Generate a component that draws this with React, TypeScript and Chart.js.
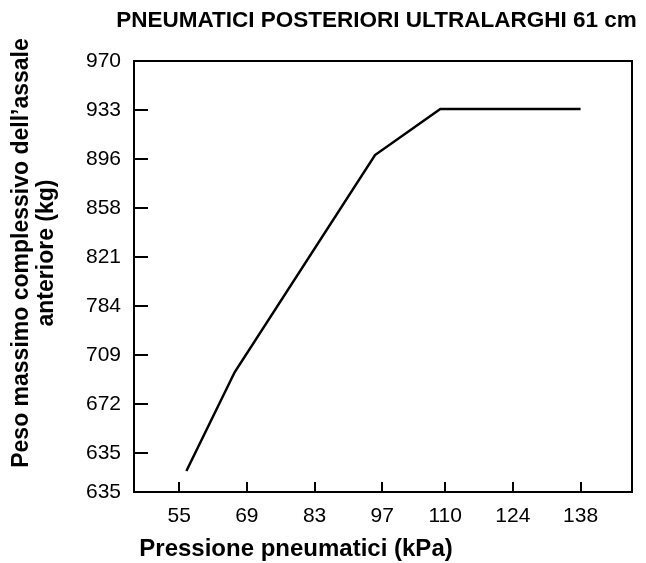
import React, { useEffect, useRef } from "react";
import { Chart, registerables } from "chart.js";

Chart.register(...registerables);

const chartTitle = "PNEUMATICI POSTERIORI ULTRALARGHI 61 cm";
const xAxisTitle = "Pressione pneumatici (kPa)";
const yAxisTitleLines = ["Peso massimo complessivo dell’assale", "anteriore (kg)"];

// x tick values (kPa)
const xTickValues = [55, 69, 83, 97, 110, 124, 138];
// y axis: tick levels (index units) and their printed labels
const yTickLevels = [0, 0.8, 1.8, 2.8, 3.8, 4.8, 5.8, 6.8, 7.8, 8.8];
const yTickLabels = ["635", "635", "672", "709", "784", "821", "858", "896", "933", "970"];

// series
const pressureKPa = [56.5, 66.5, 95.5, 109, 138];
const loadLevel = [0.43, 2.45, 6.88, 7.82, 7.82];

const FONT = "'Liberation Sans', Arial, Helvetica, sans-serif";

const framePlugin = {
  id: "framePlugin",
  afterDraw(chart: any) {
    const { ctx, chartArea } = chart;
    const { left, top, right, bottom } = chartArea;
    const xs = chart.scales.x;
    const ys = chart.scales.y;
    ctx.save();
    ctx.strokeStyle = "#000";
    ctx.lineWidth = 2;
    ctx.strokeRect(left, top, right - left, bottom - top);
    ctx.beginPath();
    yTickLevels.forEach((v) => {
      if (v > ys.min && v < ys.max) {
        const py = Math.round(ys.getPixelForValue(v));
        ctx.moveTo(left, py);
        ctx.lineTo(left + 14, py);
      }
    });
    xTickValues.forEach((v) => {
      const px = Math.round(xs.getPixelForValue(v));
      ctx.moveTo(px, bottom);
      ctx.lineTo(px, bottom - 10);
    });
    ctx.stroke();

    ctx.fillStyle = "#000";
    ctx.textAlign = "center";
    ctx.textBaseline = "middle";
    ctx.font = `bold 22.5px ${FONT}`;
    ctx.fillText(chartTitle, 376.5, 21);
    ctx.font = `bold 24px ${FONT}`;
    ctx.fillText(xAxisTitle, 296, 549);
    ctx.font = `bold 23px ${FONT}`;
    ctx.translate(34.5, 253);
    ctx.rotate(-Math.PI / 2);
    ctx.fillText(yAxisTitleLines[0], 0, -12.5);
    ctx.fillText(yAxisTitleLines[1], 0, 12.5);
    ctx.restore();
  },
};

export default function App() {
  const ref = useRef<HTMLCanvasElement | null>(null);
  useEffect(() => {
    if (!ref.current) return;
    const chart = new Chart(ref.current, {
      type: "line",
      data: {
        datasets: [
          {
            data: pressureKPa.map((x, i) => ({ x, y: loadLevel[i] })),
            borderColor: "#000",
            borderWidth: 2.5,
            pointRadius: 0,
            tension: 0,
            fill: false,
          },
        ],
      },
      options: {
        responsive: false,
        animation: false,
        layout: { padding: { top: 61, right: 14, left: 0, bottom: 0 } },
        plugins: { legend: { display: false }, tooltip: { enabled: false }, title: { display: false } },
        scales: {
          x: {
            type: "linear",
            min: 45.67,
            max: 148.63,
            grid: { display: false, drawTicks: false },
            border: { display: false },
            afterFit: (s: any) => {
              s.height = 71;
            },
            afterBuildTicks: (s: any) => {
              s.ticks = xTickValues.map((v) => ({ value: v }));
            },
            ticks: {
              autoSkip: false,
              maxRotation: 0,
              padding: 12,
              color: "#000",
              font: { family: FONT, size: 21 },
              callback: (v: any) => String(v),
            },
          },
          y: {
            type: "linear",
            min: 0,
            max: 8.8,
            grid: { display: false, drawTicks: false },
            border: { display: false },
            afterFit: (s: any) => {
              s.width = 134;
            },
            afterBuildTicks: (s: any) => {
              s.ticks = yTickLevels.map((v) => ({ value: v }));
            },
            ticks: {
              autoSkip: false,
              padding: 13,
              color: "#000",
              font: { family: FONT, size: 21 },
              callback: (_v: any, i: number) => yTickLabels[i],
            },
          },
        },
      },
      plugins: [framePlugin],
    });
    return () => chart.destroy();
  }, []);
  return (
    <div style={{ position: "fixed", left: 0, top: 0, width: 646, height: 563, background: "#fff" }}>
      <canvas ref={ref} width={646} height={563} style={{ display: "block" }} />
    </div>
  );
}
